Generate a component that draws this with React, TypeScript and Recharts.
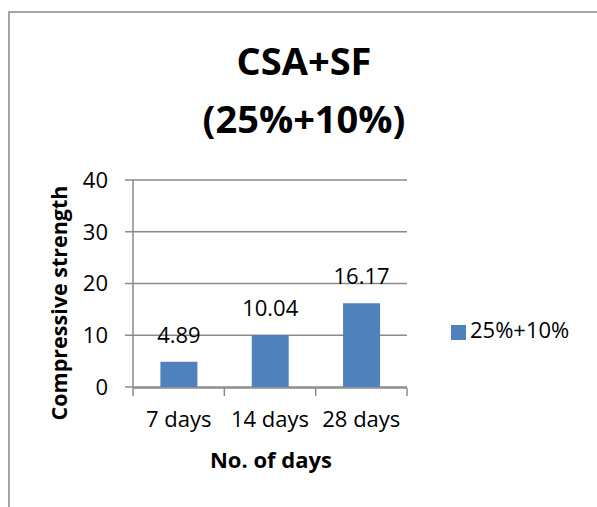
import React from 'react';
import { BarChart, Bar, XAxis, YAxis, CartesianGrid, Legend, LabelList } from 'recharts';

const categories = ['7 days', '14 days', '28 days'];
const seriesValues = [4.89, 10.04, 16.17];
const seriesName = '25%+10%';
const yTicks = [0, 10, 20, 30, 40];
const edgeTicks = [0, 1, 2, 3];
const titleLines = ['CSA+SF', '(25%+10%)'];
const yAxisTitle = 'Compressive strength';
const xAxisTitle = 'No. of days';

const data = categories.map((c, i) => ({ name: c, value: seriesValues[i] }));

const FONT = '"Open Sans", sans-serif';
const GRAY = '#8a8a8a';
const BAR = '#4f81bd';

export default function App() {
  return (
    <div style={{ position: 'absolute', left: 0, top: 0, width: 597, height: 507, overflow: 'hidden', background: '#fff' }}>
      <div
        style={{
          position: 'absolute',
          left: 8,
          top: 11,
          width: 700,
          height: 700,
          borderLeft: '2px solid #a4a4a4',
          borderTop: '2px solid #a4a4a4',
        }}
      />
      <div style={{ position: 'absolute', left: 0, top: 0 }}>
        <BarChart
          width={597}
          height={507}
          data={data}
          margin={{ top: 180, right: 190, bottom: 118, left: 23 }}
          barCategoryGap="30%"
        >
          <CartesianGrid xAxisId="cat" vertical={false} stroke={GRAY} strokeWidth={1.5} />
          <YAxis
            width={110}
            domain={[0, 40]}
            ticks={yTicks}
            interval={0}
            tickSize={8}
            tickMargin={17}
            axisLine={{ stroke: GRAY, strokeWidth: 1.5 }}
            tickLine={{ stroke: GRAY, strokeWidth: 1.5 }}
            tick={{ fill: '#000', fontSize: 22, fontFamily: FONT }}
          />
          <XAxis
            xAxisId="edge"
            dataKey="edge"
            type="number"
            domain={[0, 3]}
            allowDataOverflow
            ticks={edgeTicks}
            interval={0}
            height={1}
            tickSize={8}
            tickFormatter={() => ''}
            axisLine={{ stroke: GRAY, strokeWidth: 1.5 }}
            tickLine={{ stroke: GRAY, strokeWidth: 1.5 }}
          />
          <XAxis
            xAxisId="cat"
            dataKey="name"
            height={1}
            interval={0}
            axisLine={false}
            tickLine={false}
            tickSize={0}
            tickMargin={24}
            tick={{ fill: '#000', fontSize: 22, fontFamily: FONT }}
          />
          <Bar xAxisId="cat" dataKey="value" name={seriesName} fill={BAR} isAnimationActive={false}>
            <LabelList dataKey="value" position="top" offset={19} fill="#000" fontSize={22} fontFamily={FONT} />
          </Bar>
          <Legend
            layout="horizontal"
            verticalAlign="middle"
            align="center"
            iconType="square"
            iconSize={15}
            wrapperStyle={{ left: 451, top: 314, width: 'auto', fontFamily: FONT, fontSize: 22 }}
            formatter={(v: string) => <span style={{ color: '#000' }}>{v}</span>}
          />
          <text x={304} y={75} textAnchor="middle" fontFamily={FONT} fontWeight={700} fontSize={38} fill="#000">
            {titleLines[0]}
          </text>
          <text x={304} y={133} textAnchor="middle" fontFamily={FONT} fontWeight={700} fontSize={38} fill="#000">
            {titleLines[1]}
          </text>
          <text
            transform="translate(67,303) rotate(-90)"
            textAnchor="middle"
            fontFamily={FONT}
            fontWeight={700}
            fontSize={21.5}
            fill="#000"
          >
            {yAxisTitle}
          </text>
          <text x={271} y={468} textAnchor="middle" fontFamily={FONT} fontWeight={700} fontSize={22} fill="#000">
            {xAxisTitle}
          </text>
        </BarChart>
      </div>
    </div>
  );
}
